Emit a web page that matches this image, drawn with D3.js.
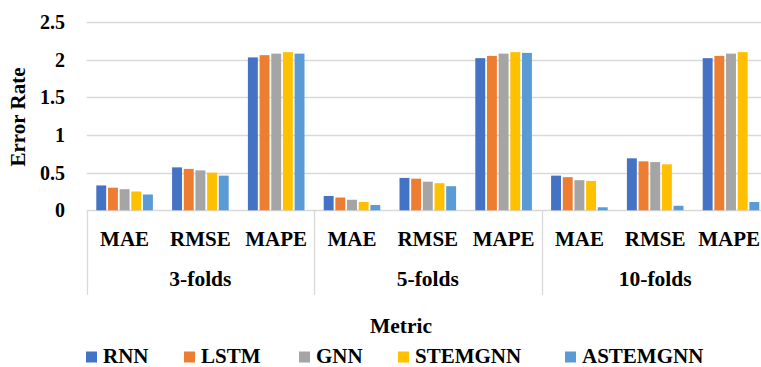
<!DOCTYPE html>
<html>
<head>
<meta charset="utf-8">
<script src="https://d3js.org/d3.v7.min.js"></script>
</head>
<body style="margin:0">
<script>
const folds = ["3-folds", "5-folds", "10-folds"];
const metrics = ["MAE", "RMSE", "MAPE"];
const seriesNames = ["RNN", "LSTM", "GNN", "STEMGNN", "ASTEMGNN"];
const colors = ["#4472C4", "#ED7D31", "#A5A5A5", "#FFC000", "#5B9BD5"];
const yTicks = [0, 0.5, 1, 1.5, 2, 2.5];

// values per series, ordered 3-folds (MAE, RMSE, MAPE), 5-folds, 10-folds
const rnn      = [0.33, 0.57, 2.03, 0.19, 0.43, 2.02, 0.46, 0.69, 2.02];
const lstm     = [0.30, 0.55, 2.06, 0.17, 0.42, 2.05, 0.44, 0.65, 2.05];
const gnn      = [0.28, 0.53, 2.08, 0.14, 0.38, 2.08, 0.40, 0.64, 2.08];
const stemgnn  = [0.25, 0.50, 2.10, 0.11, 0.36, 2.10, 0.39, 0.61, 2.10];
const astemgnn = [0.21, 0.46, 2.08, 0.07, 0.32, 2.09, 0.04, 0.06, 0.11];
const seriesValues = [rnn, lstm, gnn, stemgnn, astemgnn];

const width = 761;
const height = 367;
const left = 86.7;
const catW = 75.8;
const FONT = "Liberation Serif";

const categories = [];
folds.forEach((f) => metrics.forEach((m) => categories.push(f + "|" + m)));

const x0 = d3.scaleBand()
  .domain(categories)
  .range([left, left + catW * categories.length])
  .padding(0);

const x1 = d3.scaleBand()
  .domain(seriesNames)
  .range([9.6, catW - 9.6])
  .paddingInner(0.15)
  .paddingOuter(0);

const y = d3.scaleLinear().domain([0, 2.5]).range([210.3, 22]);

const svg = d3.select("body")
  .append("svg")
  .attr("width", width)
  .attr("height", height);

/* Gridlines */
svg.append("g")
  .selectAll("line")
  .data(yTicks)
  .join("line")
  .attr("x1", left)
  .attr("x2", width)
  .attr("y1", (d) => Math.round(y(d)) + 0.5)
  .attr("y2", (d) => Math.round(y(d)) + 0.5)
  .attr("stroke", "#d9d9d9")
  .attr("stroke-width", 1.3);

/* Y tick labels */
svg.append("g")
  .selectAll("text")
  .data(yTicks)
  .join("text")
  .attr("x", 65)
  .attr("y", (d) => y(d))
  .attr("dy", "0.35em")
  .attr("text-anchor", "end")
  .attr("font-family", FONT)
  .attr("font-weight", "bold")
  .attr("font-size", 20)
  .text((d) => d);

/* Y title */
svg.append("text")
  .attr("transform", "translate(25,117) rotate(-90)")
  .attr("text-anchor", "middle")
  .attr("font-family", FONT)
  .attr("font-weight", "bold")
  .attr("font-size", 21)
  .text("Error Rate");

/* Bars */
const cats = svg.append("g")
  .selectAll("g")
  .data(categories)
  .join("g")
  .attr("transform", (d) => `translate(${x0(d)},0)`);

cats.selectAll("rect")
  .data((d, i) => seriesNames.map((s, j) => ({ s: s, v: seriesValues[j][i], c: colors[j] })))
  .join("rect")
  .attr("x", (d) => x1(d.s))
  .attr("width", x1.bandwidth())
  .attr("y", (d) => y(d.v))
  .attr("height", (d) => y(0) - y(d.v))
  .attr("fill", (d) => d.c);

/* Category axis: separators */
const sepX = [left].concat(folds.map((f, i) => left + catW * metrics.length * (i + 1)));
svg.append("g")
  .selectAll("line")
  .data(sepX)
  .join("line")
  .attr("x1", (d) => Math.round(d) + 0.5)
  .attr("x2", (d) => Math.round(d) + 0.5)
  .attr("y1", 210)
  .attr("y2", 295)
  .attr("stroke", "#d9d9d9")
  .attr("stroke-width", 1.3);

/* Metric labels */
svg.append("g")
  .selectAll("text")
  .data(categories)
  .join("text")
  .attr("x", (d) => x0(d) + catW / 2)
  .attr("y", 246)
  .attr("text-anchor", "middle")
  .attr("font-family", FONT)
  .attr("font-weight", "bold")
  .attr("font-size", 21)
  .text((d) => d.split("|")[1])
  .each(function (d) {
    // keep the last label inside the window
    const w = this.getComputedTextLength();
    const cx = x0(d) + catW / 2;
    if (cx + w / 2 > width - 1) d3.select(this).attr("x", width - 1 - w / 2);
  });

/* Fold labels */
svg.append("g")
  .selectAll("text")
  .data(folds)
  .join("text")
  .attr("x", (d, i) => left + catW * metrics.length * (i + 0.5))
  .attr("y", 286)
  .attr("text-anchor", "middle")
  .attr("font-family", FONT)
  .attr("font-weight", "bold")
  .attr("font-size", 21.5)
  .text((d) => d);

/* X title */
svg.append("text")
  .attr("x", 401)
  .attr("y", 333)
  .attr("text-anchor", "middle")
  .attr("font-family", FONT)
  .attr("font-weight", "bold")
  .attr("font-size", 21.5)
  .text("Metric");

/* Legend */
const legendX = [86, 184, 299, 398, 565];
const legend = svg.append("g")
  .selectAll("g")
  .data(seriesNames)
  .join("g")
  .attr("transform", (d, i) => `translate(${legendX[i]},351.5)`);

legend.append("rect")
  .attr("width", 11)
  .attr("height", 11)
  .attr("fill", (d, i) => colors[i]);

legend.append("text")
  .attr("x", 17)
  .attr("y", 11)
  .attr("font-family", FONT)
  .attr("font-weight", "bold")
  .attr("font-size", 21)
  .text((d) => d);
</script>
</body>
</html>
